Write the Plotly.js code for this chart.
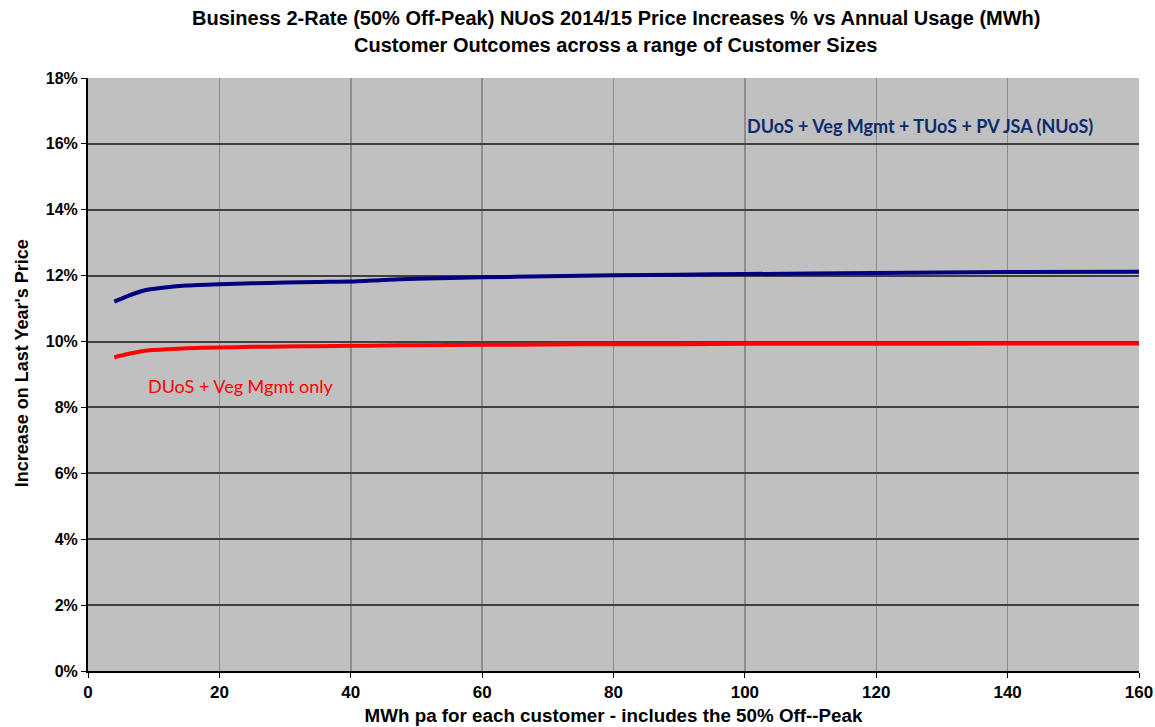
<!DOCTYPE html>
<html>
<head>
<meta charset="utf-8">
<script src="https://cdn.plot.ly/plotly-3.0.1.min.js"></script>
<style>html,body{margin:0;padding:0;background:#fff;}#chart{width:1155px;height:727px;}</style>
</head>
<body>
<div id="chart"></div>
<script>
// Annual usage (MWh pa)
var usage = [4, 6, 8, 9, 12, 15, 20, 25, 30, 35, 40, 45, 50, 60, 70, 80, 90, 100, 120, 140, 160];
// Price increase % - NUoS total
var nuosIncrease = [11.21, 11.38, 11.52, 11.57, 11.65, 11.70, 11.74, 11.77, 11.79, 11.81, 11.82, 11.87, 11.91, 11.95, 11.98, 12.01, 12.03, 12.05, 12.08, 12.11, 12.12];
// Price increase % - DUoS + Veg Mgmt only
var duosIncrease = [9.52, 9.62, 9.70, 9.73, 9.77, 9.80, 9.82, 9.84, 9.85, 9.86, 9.87, 9.88, 9.89, 9.90, 9.91, 9.92, 9.92, 9.93, 9.93, 9.94, 9.94];

var xTickVals = [0, 20, 40, 60, 80, 100, 120, 140, 160];
var xTickLabels = ["0", "20", "40", "60", "80", "100", "120", "140", "160"];
var yTickVals = [0, 2, 4, 6, 8, 10, 12, 14, 16, 18];
var yTickLabels = ["0%", "2%", "4%", "6%", "8%", "10%", "12%", "14%", "16%", "18%"];

var seriesNames = ["DUoS + Veg Mgmt + TUoS + PV JSA (NUoS)", "DUoS + Veg Mgmt only"];
var titleLines = ["Business 2-Rate (50% Off-Peak) NUoS 2014/15 Price Increases % vs Annual Usage (MWh)", "Customer Outcomes across a range of Customer Sizes"];
var xTitle = "MWh pa for each customer - includes the 50% Off--Peak";
var yTitle = "Increase on Last Year's Price";

function bold(arr) { return arr.map(function (s) { return '<b>' + s + '</b>'; }); }

var traces = [
  {x: usage, y: nuosIncrease, type: 'scatter', mode: 'lines', name: seriesNames[0],
   line: {color: '#000080', width: 4, shape: 'spline', smoothing: 0.6}},
  {x: usage, y: duosIncrease, type: 'scatter', mode: 'lines', name: seriesNames[1],
   line: {color: '#ff0000', width: 4, shape: 'spline', smoothing: 0.6}}
];

var sans = 'Liberation Sans, Arial, sans-serif';

var layout = {
  width: 1155, height: 727,
  margin: {l: 88, r: 16, t: 78, b: 56},
  paper_bgcolor: '#ffffff',
  plot_bgcolor: '#c0c0c0',
  showlegend: false,
  xaxis: {
    range: [0, 160], tickmode: 'array', tickvals: xTickVals, ticktext: bold(xTickLabels),
    showgrid: true, gridcolor: '#8c8c8c', gridwidth: 1.5,
    zeroline: false, showline: true, linecolor: '#000', linewidth: 2,
    ticks: 'outside', ticklen: 5, tickcolor: '#000', tickwidth: 1,
    tickfont: {family: sans, size: 17, color: '#000'},
    title: {text: '<b>' + xTitle + '</b>', font: {family: sans, size: 18.8, color: '#000'}, standoff: 7}
  },
  yaxis: {
    range: [0, 18], tickmode: 'array', tickvals: yTickVals, ticktext: bold(yTickLabels),
    showgrid: true, gridcolor: '#404040', gridwidth: 2,
    zeroline: false, showline: true, linecolor: '#000', linewidth: 2,
    ticks: 'outside', ticklen: 5, tickcolor: '#000', tickwidth: 1,
    tickfont: {family: sans, size: 16, color: '#000'}
  },
  annotations: [
    {xref: 'paper', yref: 'paper', x: 0.502, y: 1 + 60 / 593, xanchor: 'center', yanchor: 'middle',
     text: '<b>' + titleLines[0] + '</b>', showarrow: false, font: {family: sans, size: 20, color: '#000'}},
    {xref: 'paper', yref: 'paper', x: 0.502, y: 1 + 33 / 593, xanchor: 'center', yanchor: 'middle',
     text: '<b>' + titleLines[1] + '</b>', showarrow: false, font: {family: sans, size: 20, color: '#000'}},
    {xref: 'paper', yref: 'y', x: 0, xshift: -66, y: 9.34, xanchor: 'center', yanchor: 'middle', textangle: -90,
     text: '<b>' + yTitle + '</b>', showarrow: false, font: {family: sans, size: 18, color: '#000'}},
    {x: 126.6, y: 16.54, xref: 'x', yref: 'y', text: '<b>' + seriesNames[0] + '</b>', showarrow: false,
     font: {family: 'Lato, Open Sans, sans-serif', size: 18, color: '#0c2a6e'}},
    {x: 23.3, y: 8.64, xref: 'x', yref: 'y', text: seriesNames[1], showarrow: false,
     font: {family: 'Lato, Open Sans, sans-serif', size: 18, color: '#ff0000'}}
  ]
};

Plotly.newPlot('chart', traces, layout, {displayModeBar: false, staticPlot: true});
</script>
</body>
</html>
